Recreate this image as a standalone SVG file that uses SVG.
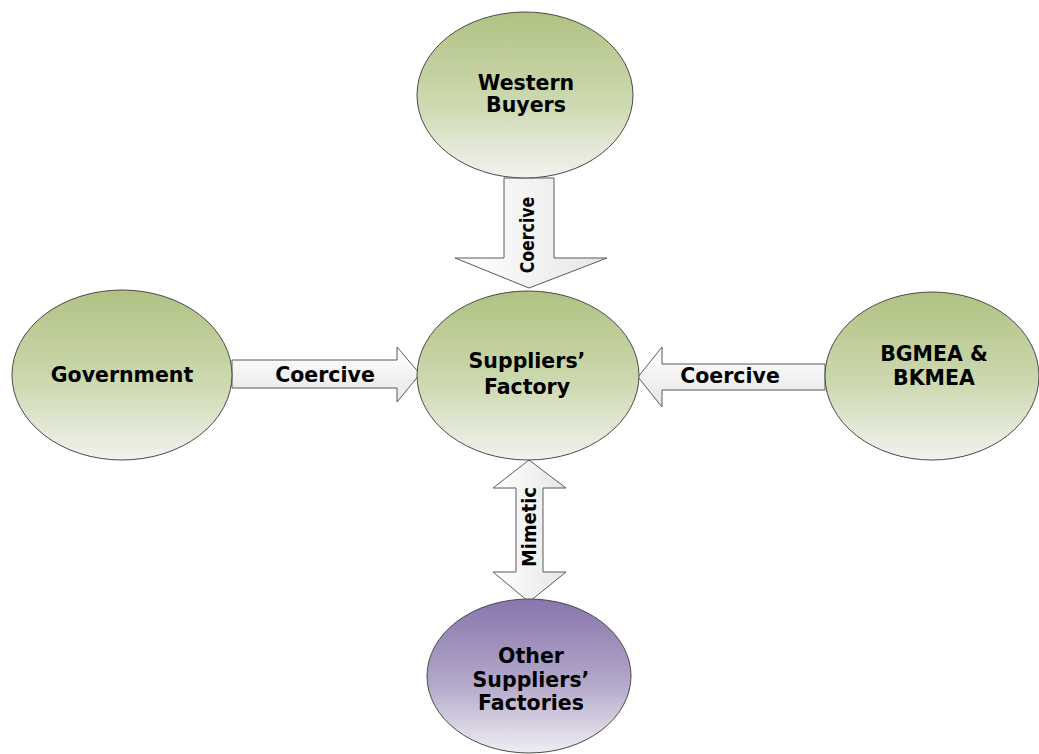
<svg xmlns="http://www.w3.org/2000/svg" width="1039" height="754" viewBox="0 0 1039 754">
<defs>
<linearGradient id="green" x1="0" y1="0" x2="0" y2="1">
<stop offset="0" stop-color="#b0c282"/>
<stop offset="0.55" stop-color="#cdd9b0"/>
<stop offset="1" stop-color="#f2f2f0"/>
</linearGradient>
<linearGradient id="purple" x1="0" y1="0" x2="0" y2="1">
<stop offset="0" stop-color="#8875ad"/>
<stop offset="0.55" stop-color="#b3a8c9"/>
<stop offset="1" stop-color="#efedf3"/>
</linearGradient>
<linearGradient id="arrowH" x1="0" y1="0" x2="0" y2="1">
<stop offset="0" stop-color="#ffffff"/>
<stop offset="1" stop-color="#e6e6e6"/>
</linearGradient>
<linearGradient id="arrowV" x1="0" y1="0" x2="1" y2="0">
<stop offset="0" stop-color="#ffffff"/>
<stop offset="1" stop-color="#e6e6e6"/>
</linearGradient>
</defs>
<style>
.node{stroke:#4a4a4a;stroke-width:1}
.g{fill:url(#green)}
.p{fill:url(#purple)}
.arrH{fill:url(#arrowH);stroke:#5a5a5a;stroke-width:1}
.arrV{fill:url(#arrowV);stroke:#5a5a5a;stroke-width:1}
text{font-family:"DejaVu Sans","Liberation Sans",sans-serif;font-weight:bold;font-size:20.5px;fill:#000;text-anchor:middle}
text.v{font-size:19px}
</style>
<rect width="1039" height="754" fill="#ffffff"/>
<g id="connectors">
<g id="c-buyers">
<polygon class="arrV" points="504,178 554,178 554,258 607,258 529,288 455,258 504,258"/>
<text class="v" transform="translate(534,235) rotate(-90) scale(0.83,1)">Coercive</text>
</g>
<g id="c-government">
<polygon class="arrH" points="232,360 397,360 397,347 420,374 397,402 397,388 232,388"/>
<text x="325" y="382">Coercive</text>
</g>
<g id="c-bgmea">
<polygon class="arrH" points="825,364 662,364 662,347 638,377 662,407 662,390 825,390"/>
<text x="730" y="383">Coercive</text>
</g>
<g id="c-other">
<polygon class="arrV" points="529,460 566,488 543,488 543,572 566,572 529,602 493,572 516,572 516,488 493,488"/>
<text class="v" transform="translate(536,527) rotate(-90) scale(0.94,1)">Mimetic</text>
</g>
</g>
<g id="western-buyers">
<ellipse class="node g" cx="525" cy="95" rx="108" ry="83"/>
<text x="526" y="90">Western</text>
<text x="526" y="112">Buyers</text>
</g>
<g id="government">
<ellipse class="node g" cx="122" cy="375" rx="110" ry="85"/>
<text x="122" y="382">Government</text>
</g>
<g id="suppliers-factory">
<ellipse class="node g" cx="528" cy="375.5" rx="111" ry="84.5"/>
<text x="527" y="368">Suppliers’</text>
<text x="527" y="394">Factory</text>
</g>
<g id="bgmea-bkmea">
<ellipse class="node g" cx="932" cy="376" rx="107" ry="84"/>
<text x="934" y="361">BGMEA &amp;</text>
<text x="934" y="385">BKMEA</text>
</g>
<g id="other-suppliers">
<ellipse class="node p" cx="529" cy="676" rx="102" ry="77"/>
<text x="531" y="663">Other</text>
<text x="531" y="687">Suppliers’</text>
<text x="531" y="710">Factories</text>
</g>
</svg>
